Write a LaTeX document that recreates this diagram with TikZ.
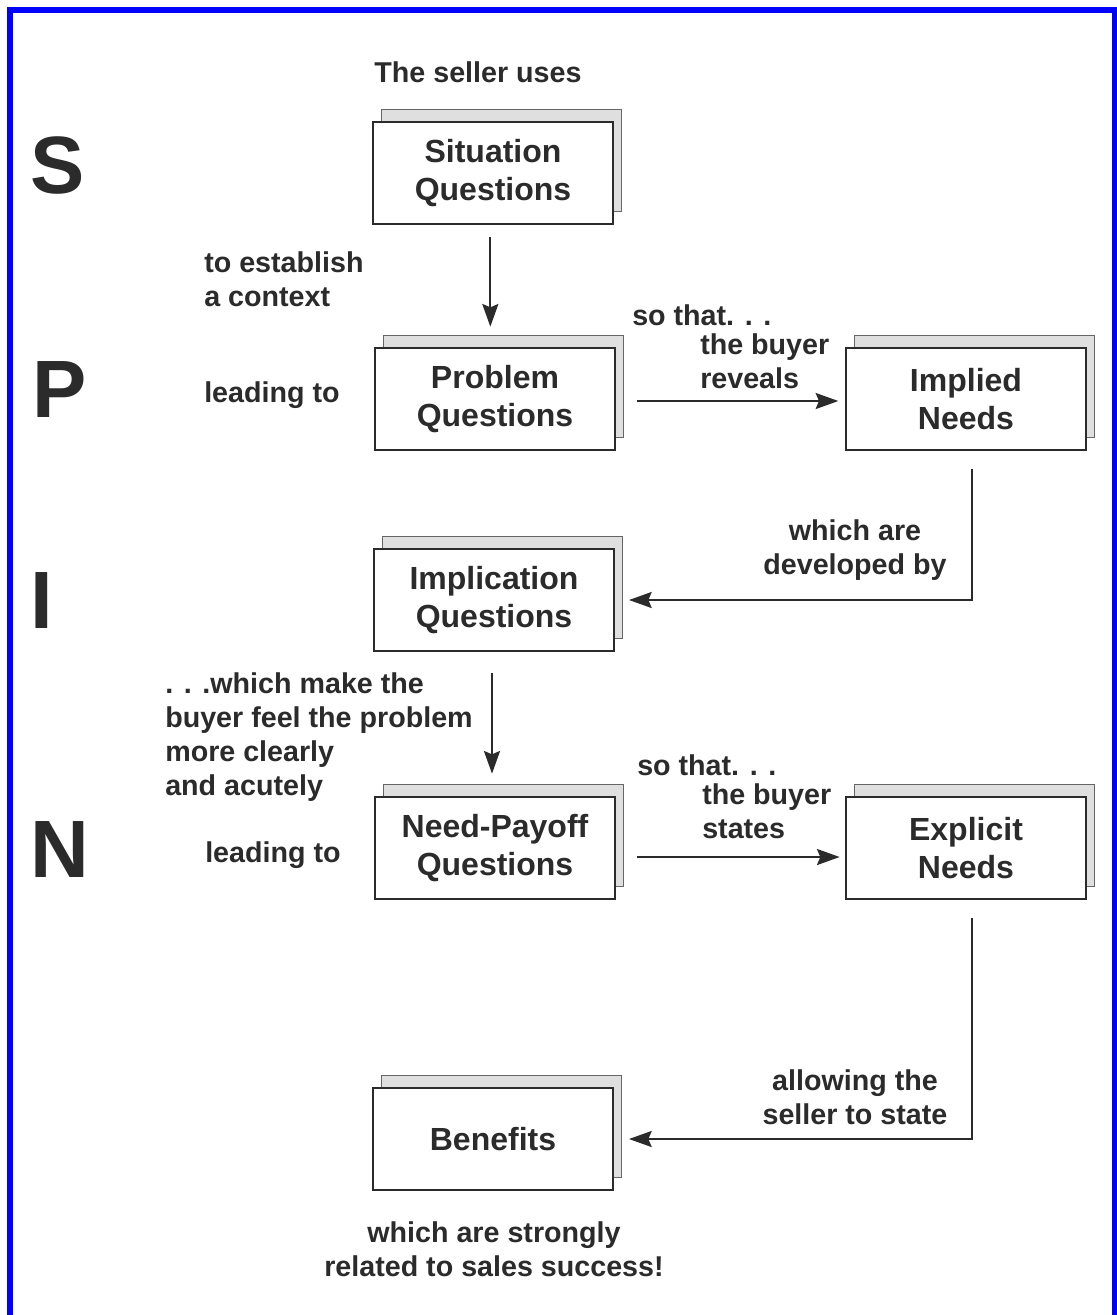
\documentclass[tikz,border=0pt]{standalone}
\usepackage{fontspec}
\setmainfont{Liberation Sans}
\usetikzlibrary{arrows.meta,shadows}
\definecolor{ink}{HTML}{2B2B2B}
\definecolor{frameblue}{RGB}{0,0,255}
\begin{document}
\begin{tikzpicture}[x=0.75pt,y=-0.75pt,
 box/.style={draw=ink, line width=1.5pt, fill=white, minimum width=180pt, minimum height=77pt,
   align=center, font=\fontsize{24}{29}\selectfont\bfseries, text=ink,
   copy shadow={shadow xshift=6pt, shadow yshift=9.5pt, fill=gray!25, draw=gray!80!black, line width=0.7pt}},
 lbl/.style={font=\fontsize{21.5}{25.5}\selectfont\bfseries, text=ink, inner sep=0pt},
 big/.style={font=\fontsize{61}{61}\selectfont\bfseries, text=ink, inner sep=0pt},
 arr/.style={draw=ink, line width=1.7pt, -{Stealth[length=17pt,width=12pt,inset=2.5pt]}}]
\useasboundingbox (0,0) rectangle (1117,1315);
\fill[white] (0,0) rectangle (1117,1315);
\draw[frameblue, line width=4.5pt] (10,1320) -- (10,10) -- (1114.5,10) -- (1114.5,1320);

% big letters
\node[big] (S) at (58,165) {S};
\node[big] (P) at (60,390) {P};
\node[big] (I) at (42,601) {I};
\node[big] (N) at (60,850) {N};

% boxes
\node[box] (sit) at (493,173) {Situation\\Questions};
\node[box] (prob) at (495,399) {Problem\\Questions};
\node[box] (impl) at (966,399) {Implied\\Needs};
\node[box] (implq) at (494,600) {Implication\\Questions};
\node[box] (np) at (495,848) {Need-Payoff\\Questions};
\node[box] (expl) at (966,848) {Explicit\\Needs};
\node[box] (ben) at (493,1139) {Benefits};

% labels
\node[lbl] (t1) at (478,72) {The seller uses};
\node[lbl, align=left, anchor=west] (t2) at (204,279) {to establish\\a context};
\node[lbl, anchor=west] (t3) at (204,395) {leading to};
\node[lbl, anchor=west] (t4) at (632,315) {so that. . .};
\node[lbl, align=left, anchor=west] (t5) at (700,361) {the buyer\\reveals};
\node[lbl, align=center] (t6) at (855,550) {which are\\developed by};
\node[lbl, align=left, anchor=west] (t7) at (165,737) {. . .which make the\\buyer feel the problem\\more clearly\\and acutely};
\node[lbl, anchor=west] (t8) at (205,855) {leading to};
\node[lbl, anchor=west] (t9) at (637,765) {so that. . .};
\node[lbl, align=left, anchor=west] (t10) at (702,811) {the buyer\\states};
\node[lbl, align=center] (t11) at (855,1097) {allowing the\\seller to state};
\node[lbl, align=center] (t12) at (494,1249) {which are strongly\\related to sales success!};

% connectors
\draw[arr, shorten <=9pt, shorten >=15pt] ([xshift=-2pt]sit.south) -- ([xshift=-3.5pt]prob.north);
\draw[arr, shorten <=16pt, shorten >=5pt] ([yshift=-1.5pt]prob.east) -- ([yshift=-1.5pt]impl.west);
\draw[arr, shorten >=10.5pt] ([xshift=4.5pt,yshift=-13.5pt]impl.south) |- (implq.east);
\draw[arr, shorten <=15.75pt, shorten >=16.5pt] ([xshift=-1.5pt]implq.south) -- ([xshift=-2.25pt]np.north);
\draw[arr, shorten <=16pt, shorten >=4pt] ([yshift=-6.75pt]np.east) -- ([yshift=-6.75pt]expl.west);
\draw[arr, shorten >=11.25pt] ([xshift=4.5pt,yshift=-13.5pt]expl.south) |- (ben.east);
\end{tikzpicture}
\end{document}
